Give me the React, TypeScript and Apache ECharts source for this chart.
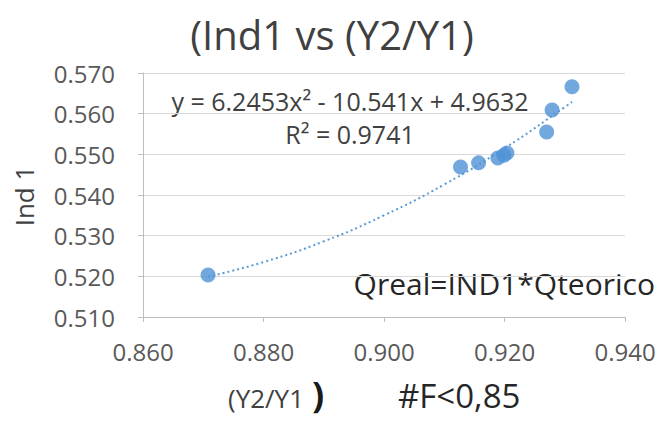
import React, { useEffect, useRef } from "react";
import * as echarts from "echarts";

const xValues = [0.8708, 0.9127, 0.9157, 0.9189, 0.9199, 0.9204, 0.927, 0.9279, 0.9312];
const yValues = [0.5203, 0.5469, 0.5479, 0.5491, 0.5498, 0.5503, 0.5555, 0.5609, 0.5666];

// trendline y = 6.2453x² - 10.541x + 4.9632, values at these x
const trendX = [0.8708, 0.88, 0.89, 0.9, 0.91, 0.92, 0.93, 0.9312];
const trendY = [0.5199, 0.5235, 0.5286, 0.535, 0.5426, 0.5515, 0.5616, 0.5629];

const titleText = "(Ind1 vs (Y2/Y1)";
const equationText = "y = 6.2453x² - 10.541x + 4.9632";
const r2Text = "R² = 0.9741";
const noteText = "Qreal=IND1*Qteorico";
const xTitle = "(Y2/Y1";
const extraText = "#F<0,85";
const yTitle = "Ind 1";

const FONT = "'Open Sans', 'Noto Sans', sans-serif";

export default function App() {
  const ref = useRef<HTMLDivElement>(null);
  useEffect(() => {
    if (!ref.current) return;
    const chart = echarts.init(ref.current, null, { renderer: "svg" });
    chart.setOption({
      animation: false,
      backgroundColor: "#ffffff",
      grid: { left: 143, right: 36, top: 73, bottom: 104 },
      xAxis: {
        type: "value",
        min: 0.86,
        max: 0.94,
        interval: 0.02,
        axisLine: { show: true, lineStyle: { color: "#bfbfbf", width: 1 } },
        axisTick: { show: true, length: 5, lineStyle: { color: "#bfbfbf" } },
        splitLine: { show: false },
        axisLabel: {
          formatter: (v: number) => v.toFixed(3),
          color: "#595959",
          fontFamily: FONT,
          fontSize: 24,
          margin: 22,
        },
      },
      yAxis: {
        type: "value",
        min: 0.51,
        max: 0.57,
        interval: 0.01,
        axisLine: { show: true, onZero: false, lineStyle: { color: "#bfbfbf", width: 1 } },
        axisTick: { show: true, length: 5, lineStyle: { color: "#bfbfbf" } },
        splitLine: { show: true, lineStyle: { color: "#d9d9d9", width: 1 } },
        axisLabel: {
          formatter: (v: number) => v.toFixed(3),
          color: "#595959",
          fontFamily: FONT,
          fontSize: 24,
          margin: 28,
        },
      },
      series: [
        {
          type: "line",
          data: trendX.map((x, i) => [x, trendY[i]]),
          smooth: true,
          showSymbol: false,
          symbol: "none",
          lineStyle: { color: "#5b9bd5", width: 2, type: [2, 3] },
          z: 1,
        },
        {
          type: "scatter",
          data: xValues.map((x, i) => [x, yValues[i]]),
          symbol: "circle",
          symbolSize: 15,
          itemStyle: { color: "#4f92d6" },
          z: 2,
        },
      ],
      graphic: [
        {
          type: "text",
          x: 332,
          y: 34,
          style: {
            text: titleText,
            fontFamily: FONT,
            fontSize: 40,
            fill: "#404040",
            align: "center",
            verticalAlign: "middle",
          },
        },
        {
          type: "text",
          x: 350,
          y: 101,
          style: {
            text: equationText,
            fontFamily: FONT,
            fontSize: 25,
            fill: "#404040",
            align: "center",
            verticalAlign: "middle",
          },
        },
        {
          type: "text",
          x: 350,
          y: 134,
          style: {
            text: r2Text,
            fontFamily: FONT,
            fontSize: 25,
            fill: "#404040",
            align: "center",
            verticalAlign: "middle",
          },
        },
        {
          type: "text",
          x: 655,
          y: 283,
          style: {
            text: noteText,
            fontFamily: FONT,
            fontSize: 30,
            fill: "#262626",
            align: "right",
            verticalAlign: "middle",
          },
        },
        {
          type: "text",
          x: 228,
          y: 398,
          style: {
            text: xTitle,
            fontFamily: FONT,
            fontSize: 26,
            fill: "#404040",
            align: "left",
            verticalAlign: "middle",
          },
        },
        {
          type: "text",
          x: 312,
          y: 394,
          style: {
            text: ")",
            fontFamily: FONT,
            fontSize: 36,
            fontWeight: "bold",
            fill: "#1a1a1a",
            align: "left",
            verticalAlign: "middle",
          },
        },
        {
          type: "text",
          x: 398,
          y: 395,
          style: {
            text: extraText,
            fontFamily: FONT,
            fontSize: 33,
            fill: "#262626",
            align: "left",
            verticalAlign: "middle",
          },
        },
        {
          type: "text",
          x: 24,
          y: 196,
          rotation: Math.PI / 2,
          style: {
            text: yTitle,
            fontFamily: FONT,
            fontSize: 26,
            fill: "#404040",
            align: "center",
            verticalAlign: "middle",
          },
        },
      ],
    });
    return () => chart.dispose();
  }, []);
  return (
    <div
      ref={ref}
      style={{ width: 661, height: 421, position: "absolute", left: 0, top: 0 }}
    />
  );
}
